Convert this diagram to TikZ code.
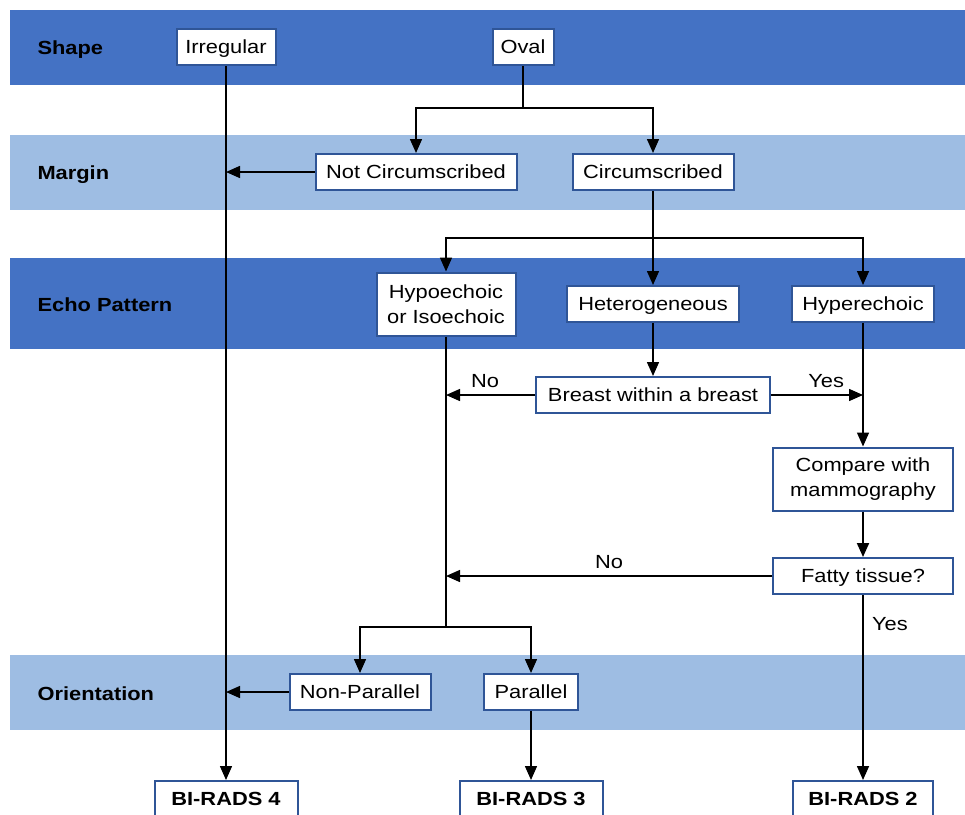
\documentclass[tikz,border=0pt]{standalone}
\usepackage{fontspec}
\setmainfont{Liberation Sans}[FakeStretch=1.15]
\usetikzlibrary{arrows.meta}
\definecolor{banddark}{RGB}{68,114,196}
\definecolor{bandlight}{RGB}{158,189,227}
\definecolor{boxline}{RGB}{47,85,151}
\tikzset{
  box/.style={draw=boxline, line width=2pt, fill=white, minimum height=36pt,
    inner sep=2pt, align=center, font=\fontsize{19}{25}\selectfont},
  onebox/.style={box, text height=14pt, text depth=2pt},
  endbox/.style={onebox, font=\fontsize{19}{23}\selectfont\bfseries},
  bandlabel/.style={anchor=west, text height=14pt, text depth=2pt,
    font=\fontsize{19}{23}\selectfont\bfseries},
  lbl/.style={text height=14pt, text depth=2pt, font=\fontsize{19}{23}\selectfont},
  arr/.style={-{Triangle[length=14pt,width=12pt]}, line width=1.5pt},
  ln/.style={line width=1.5pt}
}
\begin{document}
\begin{tikzpicture}[x=1pt,y=-1pt]
  \clip (0,0) rectangle (965,814);
  \fill[white] (0,0) rectangle (965,814);
  \fill[banddark] (10,10) rectangle (965,85);
  \fill[bandlight] (10,135) rectangle (965,210);
  \fill[banddark] (10,258) rectangle (965,349);
  \fill[bandlight] (10,655) rectangle (965,730);
  \node[bandlabel] (shp) at (34,48) {Shape};
  \node[bandlabel] (mrg) at (34,173) {Margin};
  \node[bandlabel] (ech) at (34,305) {Echo Pattern};
  \node[bandlabel] (ori) at (34,694) {Orientation};
  \node[onebox, minimum width=99pt] (irr) at (226,47) {Irregular};
  \node[onebox, minimum width=61pt] (oval) at (523,47) {Oval};
  \node[onebox, minimum width=201pt] (notc) at (416,172) {Not Circumscribed};
  \node[onebox, minimum width=161pt] (circ) at (653,172) {Circumscribed};
  \node[box, minimum width=139pt, minimum height=63pt] (hypo) at (446,304) {Hypoechoic\\or Isoechoic};
  \node[onebox, minimum width=172pt] (hetero) at (653,304) {Heterogeneous};
  \node[onebox, minimum width=142pt] (hyper) at (863,304) {Hyperechoic};
  \node[onebox, minimum width=234pt] (bwb) at (653,395) {Breast within a breast};
  \node[box, minimum width=180pt, minimum height=63pt] (cmp) at (863,479) {Compare with\\mammography};
  \node[onebox, minimum width=180pt] (fat) at (863,576) {Fatty tissue?};
  \node[onebox, minimum width=141pt] (nonpar) at (360,692) {Non-Parallel};
  \node[onebox, minimum width=94pt] (par) at (531,692) {Parallel};
  \node[endbox, minimum width=143pt] (br4) at (226,799) {BI-RADS 4};
  \node[endbox, minimum width=143pt] (br3) at (531,799) {BI-RADS 3};
  \node[endbox, minimum width=140pt] (br2) at (863,799) {BI-RADS 2};
  \coordinate (j1) at (523,108);
  \coordinate (j2) at (653,238);
  \coordinate (j3) at (446,627);
  \begin{scope}[arr]
    \draw (irr) -- (br4);
    \draw[ln, -] (oval) -- (j1);
    \draw (j1) -| (notc);
    \draw (j1) -| (circ);
    \draw (notc.west) -- (notc.west -| irr);
    \draw[ln, -] (circ) -- (j2);
    \draw (j2) -| (hypo);
    \draw (j2) -- (hetero);
    \draw (j2) -| (hyper);
    \draw (hetero) -- (bwb);
    \draw (bwb.west) -- (bwb.west -| hypo) node[lbl, pos=0.56, above=1pt] (no1) {No};
    \draw (bwb.east) -- (bwb.east -| hyper) node[lbl, pos=0.6, above=1pt] (yes1) {Yes};
    \draw (hyper) -- (cmp);
    \draw[line width=2pt] (cmp) -- (fat);
    \draw (fat.west) -- (fat.west -| hypo) node[lbl, pos=0.5, above=1pt] (no2) {No};
    \draw (fat) -- (br2) node[lbl, pos=0.16, right=5pt] (yes2) {Yes};
    \draw[ln, -] (hypo) -- (j3);
    \draw (j3) -| (nonpar);
    \draw (j3) -| (par);
    \draw (nonpar.west) -- (nonpar.west -| irr);
    \draw (par) -- (br3);
  \end{scope}
\end{tikzpicture}
\end{document}
